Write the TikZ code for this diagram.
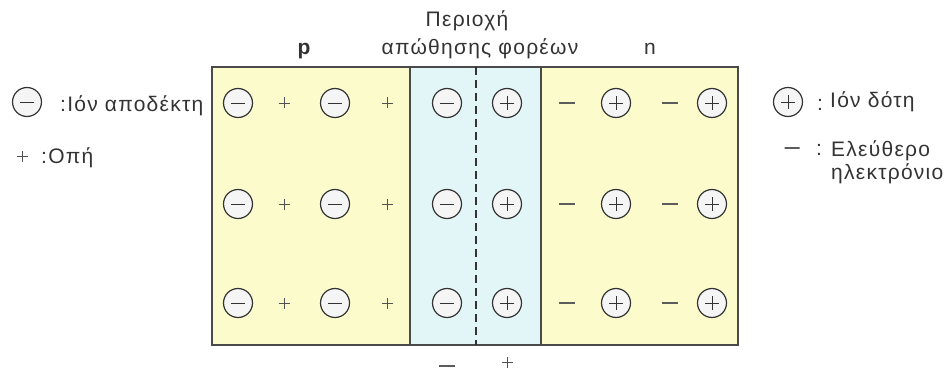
\documentclass[tikz,border=0pt]{standalone}
\usepackage{fontspec}
\setmainfont{Liberation Sans}[LetterSpace=6]
\definecolor{ylw}{HTML}{FCFBCB}
\definecolor{cyn}{HTML}{E2F6F7}
\definecolor{ink}{HTML}{333333}
\definecolor{edge}{HTML}{4A4A4A}
\begin{document}
\begin{tikzpicture}[x=1pt,y=-1pt,
  region/.style={draw=edge,line width=1.8pt,anchor=north west,minimum height=278pt,inner sep=0pt,outer sep=0pt},
  ionbase/.style={circle,draw=ink,line width=1.2pt,fill=white!92!gray,minimum size=29pt,inner sep=0pt},
  acc/.style={ionbase,path picture={\draw[ink,line width=0.9pt] ([xshift=-7pt]path picture bounding box.center) -- ([xshift=7pt]path picture bounding box.center);}},
  don/.style={ionbase,path picture={\draw[ink,line width=0.9pt] ([xshift=-7pt]path picture bounding box.center) -- ([xshift=7pt]path picture bounding box.center) ([yshift=-7pt]path picture bounding box.center) -- ([yshift=7pt]path picture bounding box.center);}},
  hole/.style={minimum size=12pt,inner sep=0pt,path picture={\draw[ink!85,line width=0.9pt] ([xshift=-5.5pt]path picture bounding box.center) -- ([xshift=5.5pt]path picture bounding box.center) ([yshift=-5.5pt]path picture bounding box.center) -- ([yshift=5.5pt]path picture bounding box.center);}},
  elec/.style={minimum width=18pt,minimum height=4pt,inner sep=0pt,path picture={\draw[ink!80,line width=1.3pt] ([xshift=-8pt]path picture bounding box.center) -- ([xshift=8pt]path picture bounding box.center);}},
  lbl/.style={text=ink,font=\fontsize{21}{23}\selectfont,inner sep=0pt}
]
\useasboundingbox (0,0) rectangle (947,377);
% regions
\node[region,fill=ylw,minimum width=198pt] (preg) at (212,67) {};
\node[region,fill=ylw,minimum width=197pt] (nreg) at (541,67) {};
\node[region,fill=cyn,minimum width=131pt] (dreg) at (410,67) {};
\coordinate (dtop) at (476,67);
\coordinate (dbot) at (476,345);
\draw[ink,line width=1.3pt,dash pattern=on 8pt off 5pt] (dtop) -- (dbot);
% charges
\foreach \y [count=\r] in {103,204,303} {
  \node[acc] (pa1-\r) at (238,\y) {};
  \node[hole] (ph1-\r) at (284,\y) {};
  \node[acc] (pa2-\r) at (335,\y) {};
  \node[hole] (ph2-\r) at (387,\y) {};
  \node[acc] (da-\r) at (447,\y) {};
  \node[don] (dd-\r) at (507,\y) {};
  \node[elec] (ne1-\r) at (567,\y) {};
  \node[don] (nd1-\r) at (616,\y) {};
  \node[elec] (ne2-\r) at (670,\y) {};
  \node[don] (nd2-\r) at (712,\y) {};
}
% bottom signs
\node[elec] (bminus) at (447,366) {};
\node[hole] (bplus) at (507,362) {};
% top labels
\node[lbl,anchor=base,font=\fontsize{21}{23}\selectfont\bfseries] (plbl) at (304,55) {p};
\node[lbl,anchor=base] (nlbl) at (650,55) {n};
\node[lbl,anchor=base] (dl1) at (467,27) {Περιοχή};
\node[lbl,anchor=base] (dl2) at (480,55) {απώθησης φορέων};
% left legend
\node[acc] (lacc) at (27,102) {};
\node[lbl,anchor=base west] (laccl) at (60,112) {:Ιόν αποδέκτη};
\node[hole] (lhole) at (22,156) {};
\node[lbl,anchor=base west] (lholel) at (41,163) {:Οπή};
% right legend
\node[don] (rdon) at (788,102) {};
\node[lbl] (rcol1) at (820,105) {:};
\node[lbl,anchor=base west] (rdonl) at (830,108) {Ιόν δότη};
\node[elec,minimum width=15pt] (relec) at (792,148) {};
\node[lbl] (rcol2) at (819,150) {:};
\node[lbl,anchor=base west] (rel1) at (831,157) {Ελεύθερο};
\node[lbl,anchor=base west] (rel2) at (831,179) {ηλεκτρόνιο};
\end{tikzpicture}
\end{document}
